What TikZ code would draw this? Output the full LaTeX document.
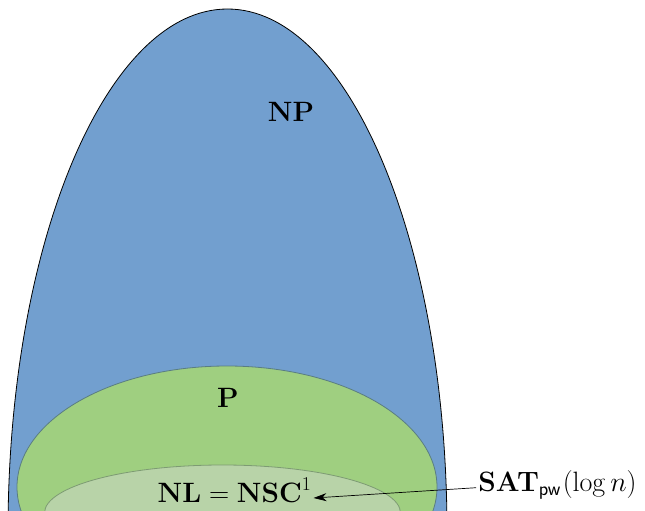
\RequirePackage{fix-cm}
\documentclass[tikz,border=0pt]{standalone}
\usetikzlibrary{arrows.meta}
\definecolor{npblue}{RGB}{114,159,207}
\definecolor{pgreen}{RGB}{159,207,128}
\definecolor{nlgreen}{RGB}{184,211,168}
\definecolor{pedge}{RGB}{90,125,130}
\definecolor{nledge}{RGB}{125,155,115}
\tikzset{
  classlabel/.style={anchor=base, inner sep=2pt, font=\fontsize{28}{34}\selectfont},
  npset/.style={fill=npblue, draw=black, line width=0.8pt},
  pset/.style={fill=pgreen, draw=pedge, line width=0.8pt},
  nlset/.style={fill=nlgreen, draw=nledge, line width=0.8pt},
  pointer/.style={-{Stealth[length=13pt,width=8pt,inset=4pt]}, line width=0.7pt}
}
\begin{document}
\begin{tikzpicture}[x=1pt,y=-1pt]
\useasboundingbox (0,0) rectangle (645,511);
\begin{scope}
\clip (0,0) rectangle (645,511);
\path[npset] (227.5,532) ellipse [x radius=219.5, y radius=523];
\path[pset] (227,487) ellipse [x radius=210, y radius=121];
\path[nlset] (222.5,513) ellipse [x radius=178, y radius=48];
\end{scope}
\node[classlabel] (np) at (291,121.7) {$\mathbf{NP}$};
\node[classlabel] (p) at (228,407) {$\mathbf{P}$};
\node[classlabel] (nl) at (234.5,502) {$\mathbf{NL} = \mathbf{NSC}^1$};
\node[classlabel] (sat) at (557.5,491.7) {$\mathbf{SAT}_{\mathsf{pw}}\mkern1mu(\log n)$};
\draw[pointer] ([yshift=4pt]sat.base west) -- ([yshift=4pt]nl.base east);
\end{tikzpicture}
\end{document}
